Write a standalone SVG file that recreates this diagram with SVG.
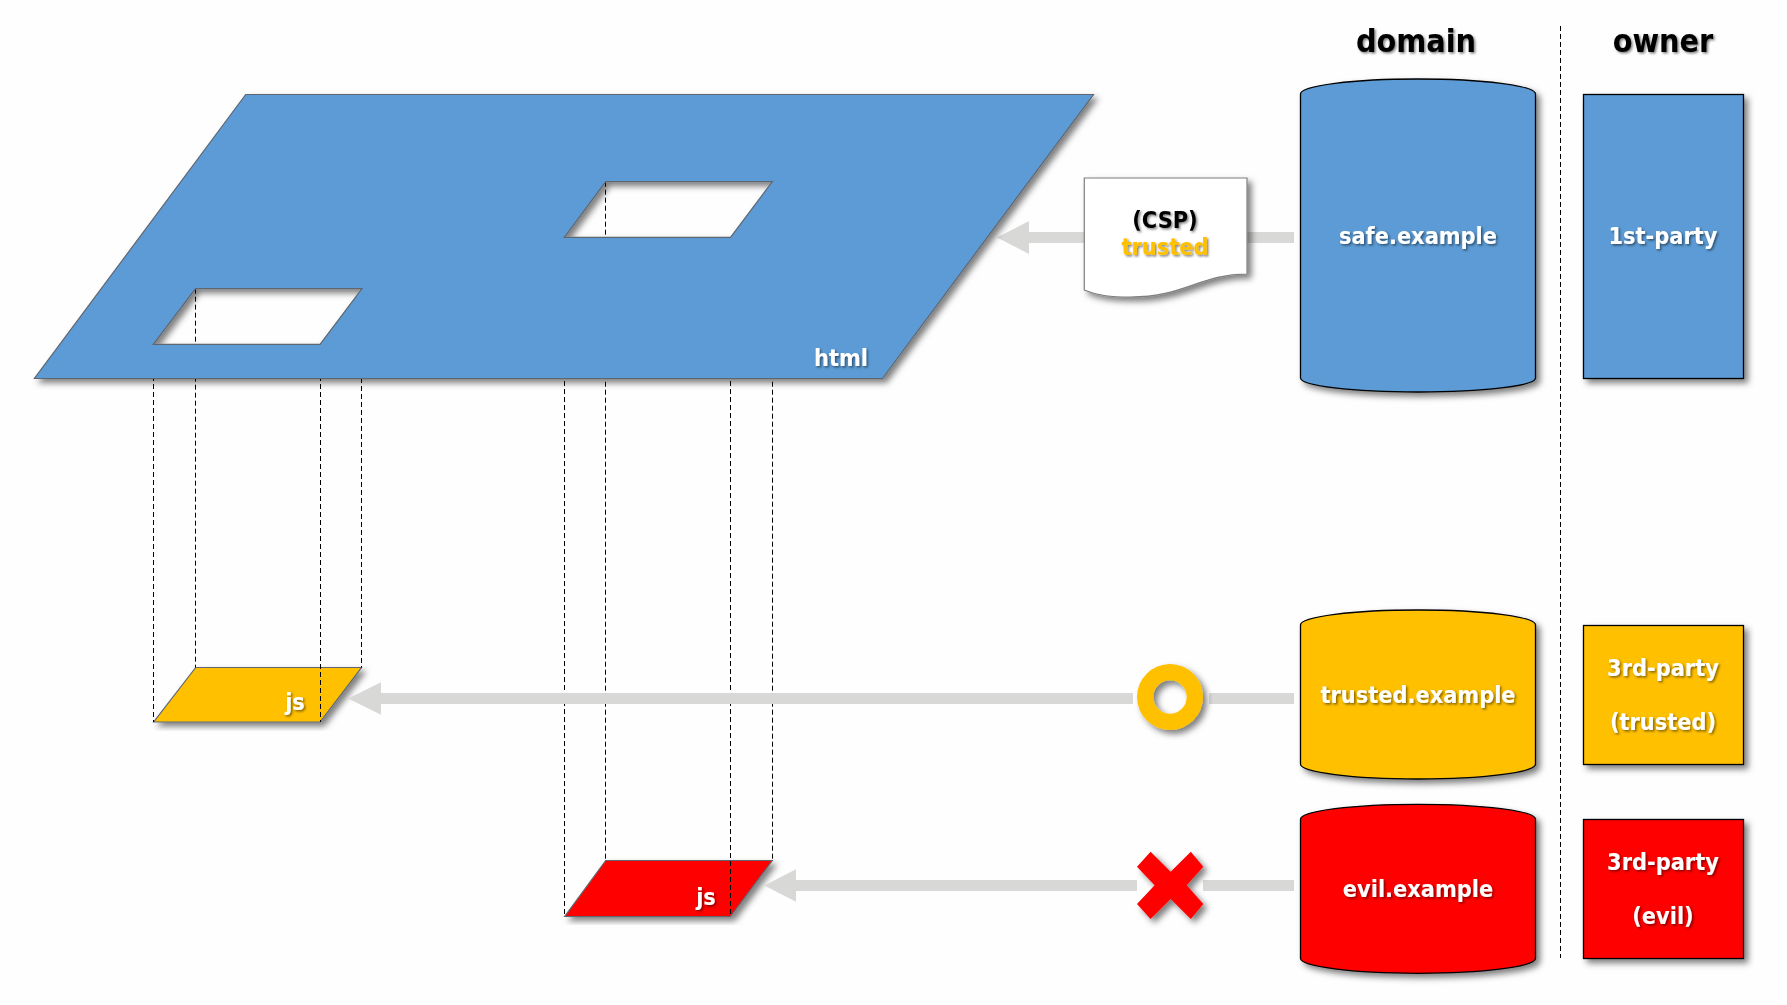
<svg xmlns="http://www.w3.org/2000/svg" width="1787" height="1005" viewBox="0 0 1787 1005">
<defs>
<filter id="sh" x="-10%" y="-10%" width="125%" height="125%"><feDropShadow dx="4" dy="4" stdDeviation="3" flood-color="#000" flood-opacity="0.5"/></filter>
<filter id="ts" x="-10%" y="-20%" width="125%" height="150%"><feDropShadow dx="1.5" dy="1.5" stdDeviation="1" flood-color="#000" flood-opacity="0.5"/></filter>
</defs>
<style>
text{font-family:"DejaVu Sans Condensed","Open Sans","Liberation Sans",sans-serif;font-weight:700;text-anchor:middle;filter:url(#ts)}
.lb{font-size:23.3px;fill:#fff}
.hd{font-size:32px;fill:#000}
.dk{font-size:23.3px;fill:#000}
.yl{font-size:23.3px;fill:#ffc000}
.pg{stroke:#5f6670;stroke-width:1.2;filter:url(#sh)}
.bx{stroke:#000;stroke-width:1.3;filter:url(#sh)}
.bar{fill:#d8d9d7}
.dash{stroke:#000;stroke-width:1;stroke-dasharray:5 3;fill:none}
.blue{fill:#5b9bd5}.yel{fill:#ffc000}.red{fill:#f00}
</style>
<rect id="background" width="1787" height="1005" fill="#fdfefd"/>
<g id="js-trusted"><polygon class="pg yel" points="195.7,667.5 361.5,667.5 320,722 153.7,722"/><text class="lb" x="295" y="709.5">js</text></g>
<g id="js-evil"><polygon class="pg red" points="605.7,860.5 772.3,860.5 730.5,916.5 564.7,916.5"/><text class="lb" x="706" y="904.5">js</text></g>
<g id="connectors">
<g id="guides">
<path class="dash" d="M153.5 344V722M195.5 288.7V667.5M320.5 344V722M361.5 378V667.5M564.5 237V916.5M605.5 181.7V860.5M730.5 237V916.5M772.5 181.7V860.5"/>
<path class="dash" d="M1560.5 26V958"/>
</g>
<g id="flows">
<path class="bar" d="M997 237.5L1029 221V232H1294V243H1029V254Z"/>
<path class="bar" d="M348 698.5L381 682.3V693H1133V704H381V714.7Z"/>
<rect class="bar" x="1209" y="693" width="85" height="11"/>
<path class="bar" d="M764.3 885.5L796 869.3V880H1137V891H796V901.7Z"/>
<rect class="bar" x="1203" y="880" width="91" height="11"/>
</g>
</g>
<g id="html"><path class="pg blue" fill-rule="evenodd" d="M245.7 94.5H1093.5L882.4 378.5H34.4ZM195.5 288.7L153.3 344.3H320L362 288.7ZM605.7 181.7L564.3 237.3H730.5L772.3 181.7Z"/><text class="lb" x="841" y="366">html</text></g>
<g id="csp"><path d="M1084.3 178H1247V274C1200 274 1185 297 1130 297C1112 297 1098 296 1084.3 290Z" fill="#fff" stroke="#7f7f7f" stroke-width="1.2" filter="url(#sh)"/><text class="dk" x="1165" y="228">(CSP)</text><text class="yl" x="1165" y="255">trusted</text></g>
<g id="ok"><path class="yel" fill-rule="evenodd" filter="url(#sh)" d="M1137 697a33 33 0 1 0 66 0a33 33 0 1 0 -66 0ZM1153.3 697a16.7 16.7 0 1 1 33.4 0a16.7 16.7 0 1 1 -33.4 0Z"/></g>
<g id="deny"><polygon class="red" filter="url(#sh)" points="1150.6,851.7 1170.7,871.7 1190.8,851.7 1203.3,866.7 1186.7,885.3 1203.3,904 1190.8,919 1170.7,899 1150.6,919 1137,904 1154.6,885.3 1137,866.7"/></g>
<g id="head-domain"><text class="hd" x="1416" y="52">domain</text></g>
<g id="head-owner"><text class="hd" x="1663" y="52">owner</text></g>
<g id="safe"><path class="bx blue" d="M1300.5 94A117.5 15 0 0 1 1535.5 94V378A117.5 14 0 0 1 1300.5 378Z"/><text class="lb" x="1418" y="244">safe.example</text></g>
<g id="trusted"><path class="bx yel" d="M1300.5 625A117.5 15 0 0 1 1535.5 625V764A117.5 15 0 0 1 1300.5 764Z"/><text class="lb" x="1418" y="703">trusted.example</text></g>
<g id="evil"><path class="bx red" d="M1300.5 819.3A117.5 15 0 0 1 1535.5 819.3V958.3A117.5 15 0 0 1 1300.5 958.3Z"/><text class="lb" x="1418" y="897">evil.example</text></g>
<g id="owner-1st"><rect class="bx blue" x="1583.5" y="94.5" width="160" height="284"/><text class="lb" x="1663" y="244">1st-party</text></g>
<g id="owner-trusted"><rect class="bx yel" x="1583.5" y="625.5" width="160" height="139"/><text class="lb" x="1663" y="676">3rd-party</text><text class="lb" x="1663" y="730">(trusted)</text></g>
<g id="owner-evil"><rect class="bx red" x="1583.5" y="819.5" width="160" height="139"/><text class="lb" x="1663" y="870">3rd-party</text><text class="lb" x="1663" y="924">(evil)</text></g>
</svg>
